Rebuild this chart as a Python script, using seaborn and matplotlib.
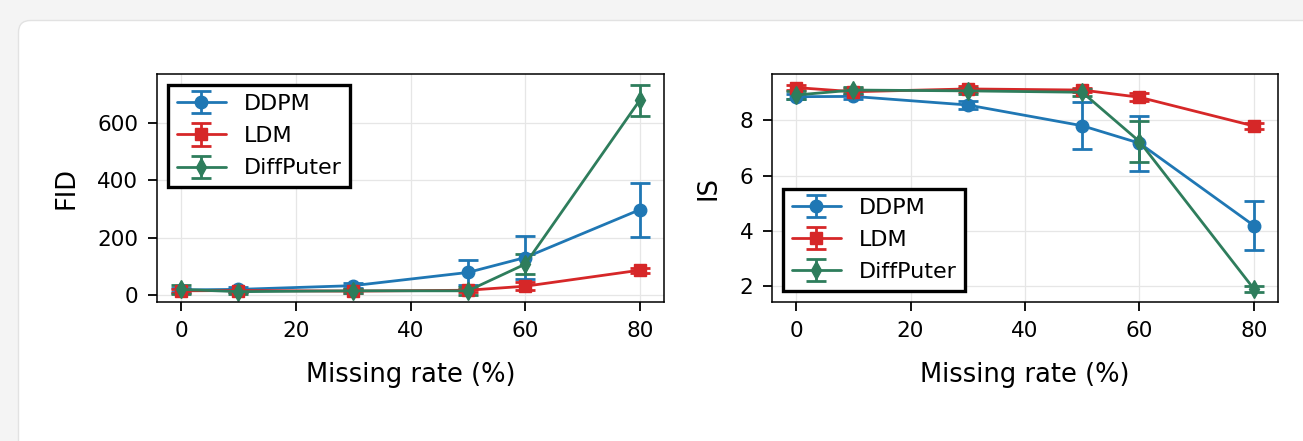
import seaborn as sns
import matplotlib.pyplot as plt
from matplotlib.patches import FancyBboxPatch
from matplotlib.transforms import IdentityTransform

rates = [0, 10, 30, 50, 60, 80]
methods = ['DDPM', 'LDM', 'DiffPuter']

# FID (lower is better)
fid_ddpm = [18, 20, 33, 79, 131, 298]
fid_ddpm_err = [8, 8, 8, 43, 76, 94]
fid_ldm = [15, 16, 14, 17, 31, 87]
fid_ldm_err = [6, 6, 6, 6, 13, 9]
fid_diff = [20, 12, 15, 15, 108, 680]
fid_diff_err = [15, 8, 8, 15, 35, 54]

# IS (higher is better)
is_ddpm = [8.85, 8.86, 8.55, 7.80, 7.17, 4.19]
is_ddpm_err = [0.1, 0.08, 0.15, 0.85, 1.0, 0.88]
is_ldm = [9.18, 9.03, 9.13, 9.09, 8.83, 7.79]
is_ldm_err = [0.1, 0.12, 0.1, 0.08, 0.15, 0.1]
is_diff = [8.91, 9.09, 9.06, 9.01, 7.23, 1.90]
is_diff_err = [0.15, 0.12, 0.1, 0.12, 0.75, 0.12]

colors = ['#1f77b4', '#d62728', '#2e7d5c']
markers = ['o', 's', 'd']

sns.set_theme(style='ticks')
plt.rcParams['font.family'] = ['DejaVu Sans']

fig = plt.figure(figsize=(13.03, 4.41), dpi=100)
fig.patch.set_facecolor('#f4f4f4')
card = FancyBboxPatch((18.5, -30), 1320, 441 - 20.5 + 30,
                      boxstyle='round,pad=0,rounding_size=12',
                      facecolor='white', edgecolor='#e2e2e2', linewidth=1,
                      transform=IdentityTransform(), zorder=-10)
fig.patches.append(card)

ax1 = fig.add_axes([157 / 1303, 1 - 302 / 441, 507 / 1303, 228 / 441])
ax2 = fig.add_axes([772 / 1303, 1 - 302 / 441, 506 / 1303, 228 / 441])

panels = [
    (ax1, [fid_ddpm, fid_ldm, fid_diff], [fid_ddpm_err, fid_ldm_err, fid_diff_err], 'FID', 'upper left'),
    (ax2, [is_ddpm, is_ldm, is_diff], [is_ddpm_err, is_ldm_err, is_diff_err], 'IS', 'lower left'),
]

for ax, ys, errs, ylabel, loc in panels:
    for name, y, e, c, m in zip(methods, ys, errs, colors, markers):
        ax.errorbar(rates, y, yerr=e, label=name, color=c, marker=m,
                    markersize=9 if m != 's' else 8, linewidth=2,
                    capsize=7.5, elinewidth=2, capthick=2)
    ax.set_xticks([0, 20, 40, 60, 80])
    ax.set_xlim(-4.2, 84.2)
    ax.grid(True, color='#e6e6e6', linewidth=0.9)
    ax.set_axisbelow(True)
    for s in ax.spines.values():
        s.set_color('black')
        s.set_linewidth(1.1)
    ax.tick_params(axis='both', labelsize=15.5, length=6.5, width=1.3,
                   color='black', labelcolor='black', direction='out', pad=7)
    ax.set_xlabel('Missing rate (%)', fontsize=18.5, color='black', labelpad=15)
    ax.set_ylabel(ylabel, fontsize=18.5, color='black', labelpad=13)
    leg = ax.legend(loc=loc, fontsize=16, fancybox=False, framealpha=1,
                    edgecolor='black', borderpad=0.4, labelspacing=0.55,
                    handlelength=2.2, handletextpad=0.8, borderaxespad=0.5)
    leg.get_frame().set_linewidth(2.4)
    for t in leg.get_texts():
        t.set_color('black')

ax1.set_yticks([0, 200, 400, 600])
ax1.set_ylim(-24, 771)
ax2.set_yticks([2, 4, 6, 8])
ax2.set_ylim(1.43, 9.67)

fig.savefig('out.png', dpi=100, facecolor=fig.get_facecolor())
